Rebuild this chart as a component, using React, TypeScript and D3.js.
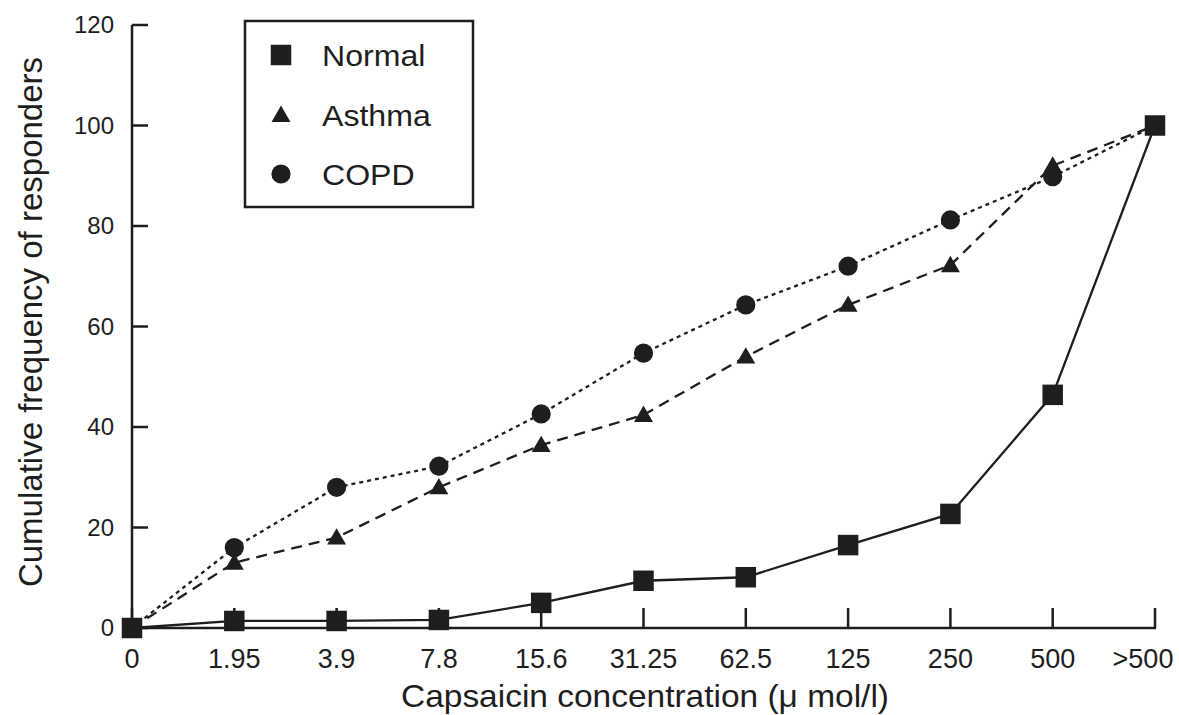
import React from "react";
import * as d3 from "d3";

const categories = ["0", "1.95", "3.9", "7.8", "15.6", "31.25", "62.5", "125", "250", "500", ">500"];
const normalValues = [0, 1.4, 1.4, 1.6, 5, 9.4, 10.1, 16.5, 22.7, 46.4, 100];
const asthmaValues = [0, 13, 18, 28, 36.4, 42.4, 54, 64.3, 72.2, 92, 100];
const copdValues = [0, 16, 28, 32.2, 42.6, 54.7, 64.3, 72, 81.2, 89.8, 100];
const yTicks = [0, 20, 40, 60, 80, 100, 120];
const seriesNames = ["Normal", "Asthma", "COPD"];

const W = 1179;
const H = 715;
const FONT = "'Liberation Sans', Arial, Helvetica, sans-serif";
const INK = "#1e1e1e";

export default function App() {
  const x = d3.scalePoint<string>().domain(categories).range([132, 1155]);
  const y = d3.scaleLinear().domain([0, 120]).range([628, 25]);

  const line = d3
    .line<number>()
    .x((_, i) => x(categories[i]) as number)
    .y((d) => y(d));

  const series = [
    { name: seriesNames[0], values: normalValues, dash: "none", marker: "square" },
    { name: seriesNames[1], values: asthmaValues, dash: "11,7", marker: "triangle" },
    { name: seriesNames[2], values: copdValues, dash: "4,4", marker: "circle" },
  ];

  const sym = (m: string) => {
    if (m === "square") return d3.symbol().type(d3.symbolSquare).size(420)();
    if (m === "triangle") return d3.symbol().type(d3.symbolTriangle).size(155)();
    return d3.symbol().type(d3.symbolCircle).size(290)();
  };

  const x0 = x(categories[0]) as number;
  const x1 = x(categories[categories.length - 1]) as number;

  return (
    <svg
      width={W}
      height={H}
      style={{ position: "absolute", left: 0, top: 0, background: "#fff" }}
      fontFamily={FONT}
    >
      <rect x={0} y={0} width={W} height={H} fill="#fff" />
      {/* axes */}
      <line x1={x0} x2={x0} y1={y(120)} y2={y(0)} stroke={INK} strokeWidth={2.5} />
      <line x1={x0 - 1} x2={x1 + 1} y1={y(0)} y2={y(0)} stroke={INK} strokeWidth={2.5} />
      {yTicks.map((t) => (
        <g key={"yt" + t}>
          <line x1={x0} x2={x0 + 16} y1={y(t)} y2={y(t)} stroke={INK} strokeWidth={2.5} />
          <text x={114} y={y(t)} dy="0.35em" textAnchor="end" fontSize={24} fill={INK}>
            {t}
          </text>
        </g>
      ))}
      {categories.map((c, i) => {
        const px = x(c) as number;
        const lx = i === categories.length - 1 ? px - 12 : px;
        return (
          <g key={"xt" + c}>
            <line x1={px} x2={px} y1={y(0)} y2={y(0) - 20} stroke={INK} strokeWidth={2.5} />
            <text x={lx} y={668} textAnchor="middle" fontSize={27} fill={INK}>
              {c}
            </text>
          </g>
        );
      })}
      <g transform="translate(645,707) scale(1.08,1)">
        <text x={0} y={0} textAnchor="middle" fontSize={31} fill={INK}>
          Capsaicin concentration (μ mol/l)
        </text>
      </g>
      <text
        transform={`translate(42,322) rotate(-90)`}
        textAnchor="middle"
        fontSize={33}
        fill={INK}
      >
        Cumulative frequency of responders
      </text>

      {/* lines */}
      {series.map((s) => (
        <path
          key={"l" + s.name}
          d={line(s.values) || ""}
          fill="none"
          stroke={INK}
          strokeWidth={2.3}
          strokeDasharray={s.dash}
        />
      ))}
      {/* markers */}
      {series
        .slice()
        .reverse()
        .map((s) =>
          s.values.map((v, i) => (
            <path
              key={s.name + i}
              d={sym(s.marker) || ""}
              transform={`translate(${x(categories[i])},${y(v) + (s.marker === "triangle" ? 1.5 : 0)})`}
              fill={INK}
            />
          ))
        )}

      {/* legend */}
      <rect x={245} y={21} width={228} height={186} fill="#fff" stroke={INK} strokeWidth={2.5} />
      {series.map((s, i) => {
        const cy = [55, 115, 174][i];
        return (
          <g key={"lg" + s.name}>
            <path
              d={sym(s.marker) || ""}
              transform={`translate(281,${cy + (s.marker === "triangle" ? 1.5 : 0)})`}
              fill={INK}
            />
            <g transform={`translate(322,${cy}) scale(1.07,1)`}>
              <text x={0} y={0} dy="0.36em" fontSize={30} fill={INK}>
                {s.name}
              </text>
            </g>
          </g>
        );
      })}
    </svg>
  );
}
